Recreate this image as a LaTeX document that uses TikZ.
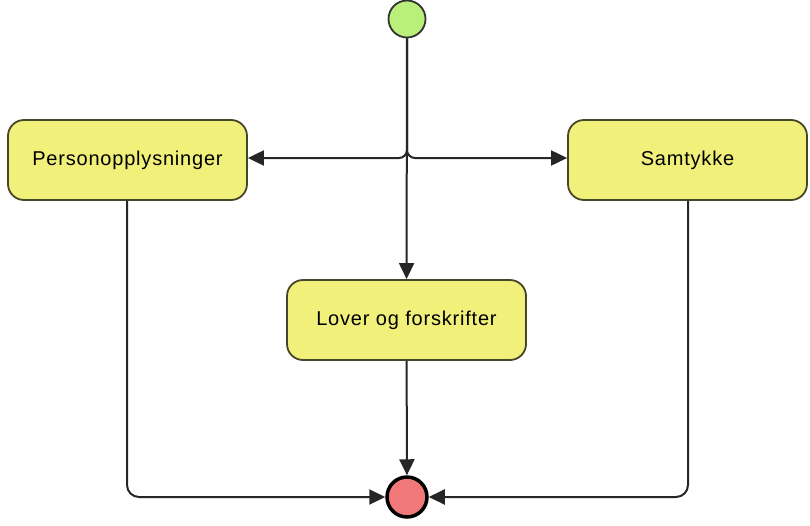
\documentclass[tikz,border=0pt]{standalone}
\usepackage{fontspec}
\setmainfont{Liberation Sans}[LetterSpace=4]
\usetikzlibrary{arrows.meta}
\definecolor{boxfill}{RGB}{240,240,122}
\definecolor{boxdraw}{RGB}{70,70,40}
\definecolor{startfill}{RGB}{184,240,122}
\definecolor{endfill}{RGB}{240,120,120}
\tikzset{
  statebox/.style={draw=boxdraw, line width=1.8pt, fill=boxfill, rounded corners=16pt,
    minimum width=239pt, minimum height=80pt, inner sep=0pt,
    font=\fontsize{20pt}{22pt}\selectfont},
  startnode/.style={circle, draw=black!80, line width=1.8pt, fill=startfill, minimum size=37pt, inner sep=0pt},
  endnode/.style={circle, draw=black, line width=3.5pt, fill=endfill, minimum size=40pt, inner sep=0pt},
  conn/.style={draw=black!85, line width=2pt, -{Triangle[length=16pt,width=15pt]}},
}
\begin{document}
\begin{tikzpicture}[x=1pt,y=-1pt]
\useasboundingbox (0,0) rectangle (810,525);
\node[startnode] (start) at (407,19) {};
\node[statebox] (P) at (127.5,160) {Personopplysninger};
\node[statebox] (S) at (687.5,160) {Samtykke};
\node[statebox] (L) at (406.5,320) {Lover og forskrifter};
\node[endnode] (end) at (407,497) {};
\draw[conn, rounded corners=8pt] (start) |- (P.east |- 0,158);
\draw[conn, rounded corners=8pt] (start) |- (S.west |- 0,158);
\draw[conn] (start) -- (L);
\draw[conn] (L) -- (end);
\draw[conn, rounded corners=12pt] (P.south -| 127,0) |- (end);
\draw[conn, rounded corners=12pt] (S.south -| 688,0) |- (end);
\end{tikzpicture}
\end{document}
